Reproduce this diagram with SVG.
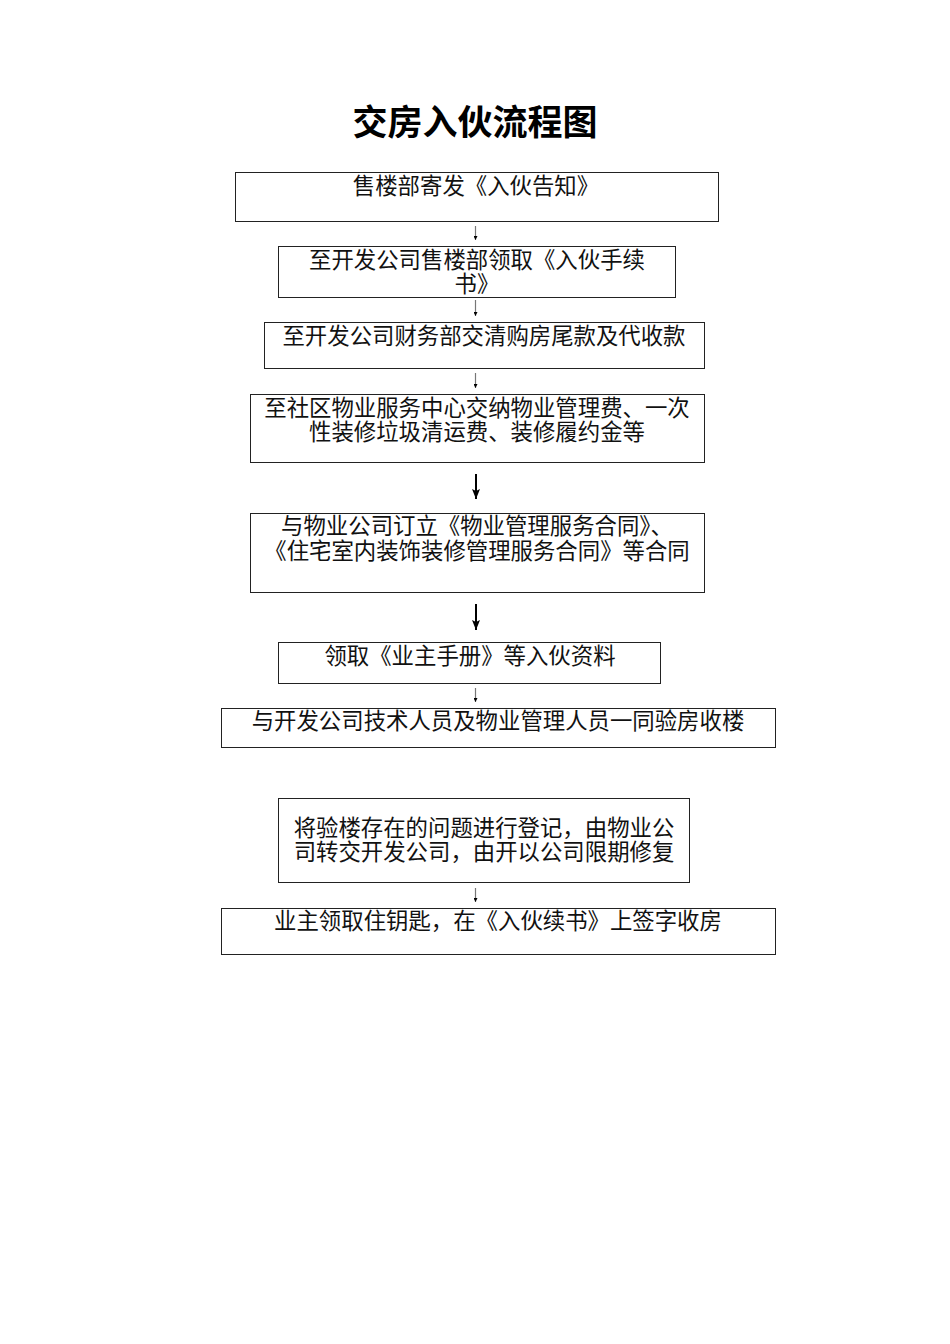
<svg xmlns="http://www.w3.org/2000/svg" width="950" height="1344" viewBox="0 0 950 1344">
<style>
.box{fill:#fff;stroke:#222;stroke-width:1}
.t{font-family:"Noto Sans CJK SC","Noto Sans CJK JP",sans-serif;font-size:22.4px;fill:#111;text-anchor:middle}
.title{font-family:"Noto Sans CJK SC","Noto Sans CJK JP",sans-serif;font-size:35px;font-weight:bold;fill:#000;text-anchor:middle}
.sl{stroke:#777;stroke-width:1.2}
.bl{stroke:#000;stroke-width:2}
</style>
<defs>
<marker id="big" markerWidth="10" markerHeight="8" refX="10" refY="4" orient="auto" markerUnits="userSpaceOnUse" viewBox="0 0 10 8">
<path d="M0,0 L10,4 L0,8 L2,4 Z" fill="#000"/>
</marker>
<marker id="small" markerWidth="4" markerHeight="4" refX="4" refY="2" orient="auto" markerUnits="userSpaceOnUse" viewBox="0 0 4 4">
<path d="M0,0 L4,2 L0,4 Z" fill="#000"/>
</marker>
</defs>
<rect width="950" height="1344" fill="#fff"/>
<text class="title" x="475" y="135">交房入伙流程图</text>

<g id="connectors">
<line class="sl" x1="475.5" y1="226" x2="475.5" y2="240" marker-end="url(#small)"/>
<line class="sl" x1="475.5" y1="300" x2="475.5" y2="316" marker-end="url(#small)"/>
<line class="sl" x1="475.5" y1="373" x2="475.5" y2="388" marker-end="url(#small)"/>
<line class="bl" x1="476" y1="474" x2="476" y2="499" marker-end="url(#big)"/>
<line class="bl" x1="476" y1="604" x2="476" y2="630" marker-end="url(#big)"/>
<line class="sl" x1="475.5" y1="688" x2="475.5" y2="702" marker-end="url(#small)"/>
<line class="sl" x1="475.5" y1="888" x2="475.5" y2="902" marker-end="url(#small)"/>
</g>

<g id="n1"><rect class="box" x="235.5" y="172.5" width="483" height="49"/>
<text class="t" x="476" y="194">售楼部寄发《入伙告知》</text></g>

<g id="n2"><rect class="box" x="278.5" y="246.5" width="397" height="51"/>
<text class="t"><tspan x="477" y="268">至开发公司售楼部领取《入伙手续</tspan><tspan x="477" y="292">书》</tspan></text></g>

<g id="n3"><rect class="box" x="264.5" y="322.5" width="440" height="46"/>
<text class="t" x="484" y="344">至开发公司财务部交清购房尾款及代收款</text></g>

<g id="n4"><rect class="box" x="250.5" y="394.5" width="454" height="68"/>
<text class="t"><tspan x="477" y="416">至社区物业服务中心交纳物业管理费、一次</tspan><tspan x="477" y="440">性装修垃圾清运费、装修履约金等</tspan></text></g>

<g id="n5"><rect class="box" x="250.5" y="513.5" width="454" height="79"/>
<text class="t"><tspan x="477" y="534">与物业公司订立《物业管理服务合同》、</tspan><tspan x="477" y="559">《住宅室内装饰装修管理服务合同》等合同</tspan></text></g>

<g id="n6"><rect class="box" x="278.5" y="642.5" width="382" height="41"/>
<text class="t" x="470" y="664">领取《业主手册》等入伙资料</text></g>

<g id="n7"><rect class="box" x="221.5" y="708.5" width="554" height="39"/>
<text class="t" x="498" y="729">与开发公司技术人员及物业管理人员一同验房收楼</text></g>

<g id="n8"><rect class="box" x="278.5" y="798.5" width="411" height="84"/>
<text class="t"><tspan x="484" y="836">将验楼存在的问题进行登记，由物业公</tspan><tspan x="484" y="860">司转交开发公司，由开以公司限期修复</tspan></text></g>

<g id="n9"><rect class="box" x="221.5" y="908.5" width="554" height="46"/>
<text class="t" x="498" y="929">业主领取住钥匙，在《入伙续书》上签字收房</text></g>
</svg>
